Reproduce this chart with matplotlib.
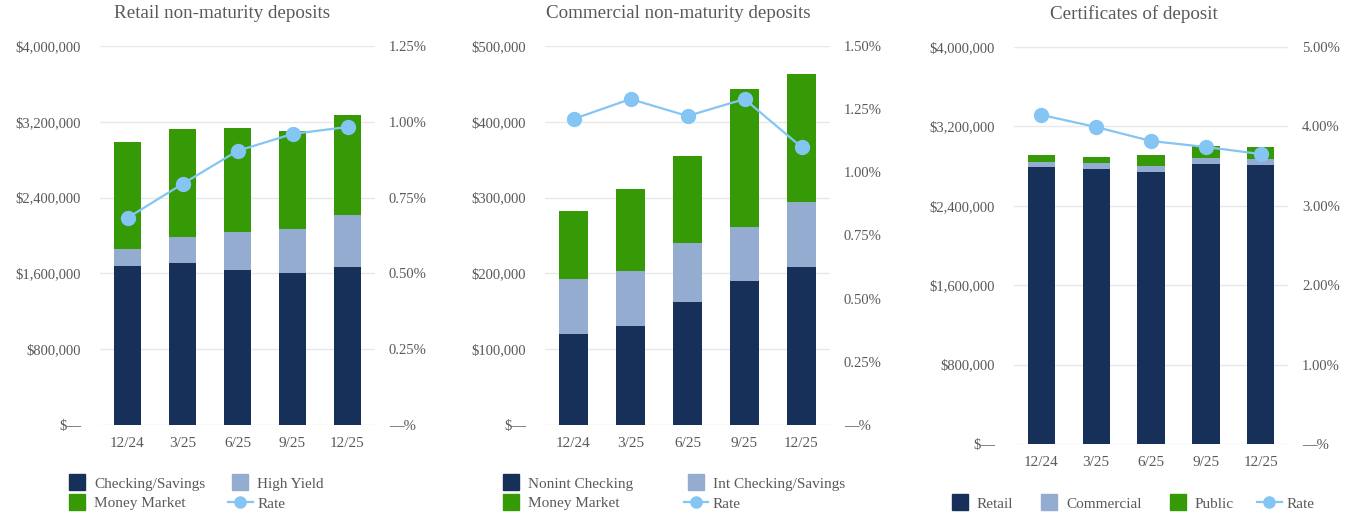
import matplotlib
matplotlib.use('Agg')
import matplotlib.pyplot as plt
from matplotlib.ticker import FuncFormatter, MultipleLocator
from matplotlib.lines import Line2D

plt.rcParams['font.family'] = ['Liberation Serif', 'DejaVu Serif']

quarters = ['12/24', '3/25', '6/25', '9/25', '12/25']

# retail non-maturity deposits
retail_checking = [1678000, 1710000, 1636000, 1604000, 1668000]
retail_high_yield = [179000, 274000, 401000, 465000, 548000]
retail_money_market = [1130000, 1140000, 1098000, 1034000, 1056000]
retail_rate = [0.683, 0.795, 0.904, 0.960, 0.983]

# commercial non-maturity deposits
comm_nonint = [120000, 130600, 162000, 190000, 208000]
comm_int = [72600, 72400, 78000, 71000, 86000]
comm_money_market = [89400, 108000, 115000, 182000, 169000]
comm_rate = [1.211, 1.290, 1.223, 1.290, 1.100]

# certificates of deposit
cd_retail = [2791000, 2771000, 2741000, 2821000, 2811000]
cd_commercial = [50000, 60000, 60000, 61000, 60000]
cd_public = [71000, 61000, 111000, 121000, 121000]
cd_rate = [4.144, 3.992, 3.816, 3.741, 3.652]

navy = '#17305a'
light = '#93acd0'
green = '#359a06'
rate_clr = '#84c5f4'
txt = '#595959'
W, H = 1364, 519

fig = plt.figure(figsize=(W / 100, H / 100), dpi=100)


def dollars(v, pos):
    return '$\u2014' if v == 0 else f'${v:,.0f}'


def percent(v, pos):
    return '\u2014%' if abs(v) < 1e-9 else f'{v:.2f}%'


def panel(box, title, title_x, stacks, rate, ymax, ystep, rmax, rstep):
    # box is left, top, right, bottom in pixels
    l, t, r, b = box
    ax = fig.add_axes((l / W, 1 - b / H, (r - l) / W, (b - t) / H))
    x = list(range(len(quarters)))
    bottom = [0] * len(quarters)
    for vals, clr in zip(stacks, [navy, light, green]):
        ax.bar(x, vals, 0.5, bottom=bottom, color=clr, zorder=2)
        bottom = [a + c for a, c in zip(bottom, vals)]
    ax.set_xlim(-0.5, len(quarters) - 0.5)
    ax.set_ylim(0, ymax)
    ax.yaxis.set_major_locator(MultipleLocator(ystep))
    ax.yaxis.set_major_formatter(FuncFormatter(dollars))
    ax.set_xticks(x, quarters)
    ax.grid(axis='y', color='#e8e8e8', lw=1, zorder=0)
    ax.set_axisbelow(True)
    for s in ax.spines.values():
        s.set_visible(False)
    ax.tick_params(axis='y', length=0, pad=13.5, labelsize=10.5, labelcolor=txt)
    ax.tick_params(axis='x', length=0, pad=8.5, labelsize=11, labelcolor=txt)

    axr = ax.twinx()
    axr.plot(x, rate, color=rate_clr, lw=1.6, marker='o', ms=10, zorder=5)
    axr.set_ylim(0, rmax)
    axr.yaxis.set_major_locator(MultipleLocator(rstep))
    axr.yaxis.set_major_formatter(FuncFormatter(percent))
    for s in axr.spines.values():
        s.set_visible(False)
    axr.tick_params(axis='y', length=0, pad=10, labelsize=10.5, labelcolor=txt)

    fig.text(title_x / W, 1 - 14 / H, title, ha='center', va='center',
             fontsize=13.7, color=txt)

    handles = [Line2D([], [], ls='none', marker='s', ms=11, mfc=c, mec=c)
               for c in [navy, light, green]]
    handles.append(Line2D([], [], color=rate_clr, lw=1.6, marker='o', ms=8))
    return handles


h1 = panel((100, 46, 375, 425), 'Retail non-maturity deposits', 222,
           [retail_checking, retail_high_yield, retail_money_market],
           retail_rate, 4000000, 800000, 1.25, 0.25)
h2 = panel((545, 46, 830, 425), 'Commercial non-maturity deposits', 678,
           [comm_nonint, comm_int, comm_money_market],
           comm_rate, 500000, 100000, 1.5, 0.25)
h3 = panel((1014, 47, 1288, 444), 'Certificates of deposit', 1134,
           [cd_retail, cd_commercial, cd_public],
           cd_rate, 4000000, 800000, 5.0, 1.0)

leg_kw = dict(frameon=False, fontsize=11, labelcolor=txt, loc='upper left',
              borderaxespad=0, borderpad=0, handlelength=1.6, handletextpad=0.3,
              labelspacing=0.4)

# legend columns fill top-down, so order handles accordingly
fig.legend([h1[0], h1[2], h1[1], h1[3]],
           ['Checking/Savings', 'Money Market', 'High Yield', 'Rate'],
           ncol=2, columnspacing=1.5,
           bbox_to_anchor=(65 / W, 1 - 477 / H), **leg_kw)
fig.legend([h2[0], h2[2], h2[1], h2[3]],
           ['Nonint Checking', 'Money Market', 'Int Checking/Savings', 'Rate'],
           ncol=2, columnspacing=3.3,
           bbox_to_anchor=(499 / W, 1 - 477 / H), **leg_kw)
fig.legend(h3, ['Retail', 'Commercial', 'Public', 'Rate'],
           ncol=4, columnspacing=1.55,
           bbox_to_anchor=(948 / W, 1 - 497 / H), **leg_kw)

fig.savefig('out.png', dpi=100)
